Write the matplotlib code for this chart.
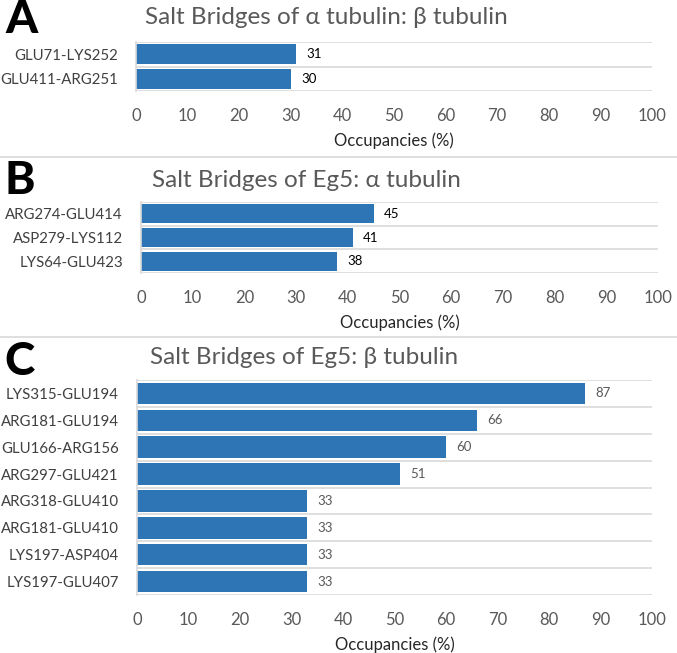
import matplotlib.pyplot as plt
from matplotlib.lines import Line2D

plt.rcParams['font.family'] = ['Lato', 'DejaVu Sans']

W, H = 677, 653

# Panel A: alpha tubulin / beta tubulin
a_labels = ["GLU71-LYS252", "GLU411-ARG251"]
a_values = [31, 30]

# Panel B: Eg5 / alpha tubulin
b_labels = ["ARG274-GLU414", "ASP279-LYS112", "LYS64-GLU423"]
b_values = [45, 41, 38]

# Panel C: Eg5 / beta tubulin
c_labels = ["LYS315-GLU194", "ARG181-GLU194", "GLU166-ARG156", "ARG297-GLU421",
            "ARG318-GLU410", "ARG181-GLU410", "LYS197-ASP404", "LYS197-GLU407"]
c_values = [87, 66, 60, 51, 33, 33, 33, 33]

ticks = list(range(0, 101, 10))

BLUE = "#2E75B6"
GRID = "#D9D9D9"
GRAY = "#595959"


def panel(fig, box, labels, values, title, title_x, title_y, letter, letter_xy, val_color):
    # box = (left, top, right, bottom) in pixels
    l, t, r, b = box
    ax = fig.add_axes([l / W, 1 - b / H, (r - l) / W, (b - t) / H])
    n = len(values)
    pos = list(range(n))
    ax.barh(pos, values, height=0.8, color=BLUE)
    ax.set_xlim(0, 100)
    ax.set_ylim(n - 0.5, -0.5)
    ax.set_yticks(pos)
    ax.set_yticklabels(labels, fontsize=10.8, color="#404040")
    ax.set_yticks([i - 0.5 for i in range(n + 1)], minor=True)
    ax.grid(True, which="minor", axis="y", color=GRID, linewidth=1.2)
    ax.tick_params(axis="y", which="both", length=0, pad=13)
    ax.set_xticks(ticks)
    ax.tick_params(axis="x", length=0, labelsize=12, labelcolor=GRAY, pad=12)
    ax.set_xlabel("Occupancies (%)", fontsize=12, color="#262626", labelpad=6)
    for s in ["top", "right", "bottom"]:
        ax.spines[s].set_visible(False)
    ax.spines["left"].set_color(GRID)
    ax.spines["left"].set_linewidth(1.2)
    for p, v in zip(pos, values):
        ax.text(v + 2, p, str(v), va="center", ha="left", fontsize=9.5, color=val_color)
    fig.text(title_x / W, 1 - title_y / H, title, ha="center", va="center",
             fontsize=17.5, color=GRAY)
    fig.text(letter_xy[0] / W, 1 - letter_xy[1] / H, letter, ha="left", va="center",
             fontsize=33, fontweight="black", color="black")
    return ax


fig = plt.figure(figsize=(W / 100, H / 100), dpi=100)

panel(fig, (136, 42, 652, 91), a_labels, a_values,
      "Salt Bridges of \u03b1 tubulin: \u03b2 tubulin", 326, 18, "A", (5, 20), "black")
panel(fig, (141, 202, 658, 273), b_labels, b_values,
      "Salt Bridges of Eg5: \u03b1 tubulin", 306, 181, "B", (5, 181), "black")
panel(fig, (137, 380, 652, 595), c_labels, c_values,
      "Salt Bridges of Eg5: \u03b2 tubulin", 304, 358, "C", (4, 362), GRAY)

for y in (157, 337):
    fig.add_artist(Line2D([0, 1], [1 - y / H, 1 - y / H], color=GRID, linewidth=1.2))

fig.savefig("out.png", dpi=100)
